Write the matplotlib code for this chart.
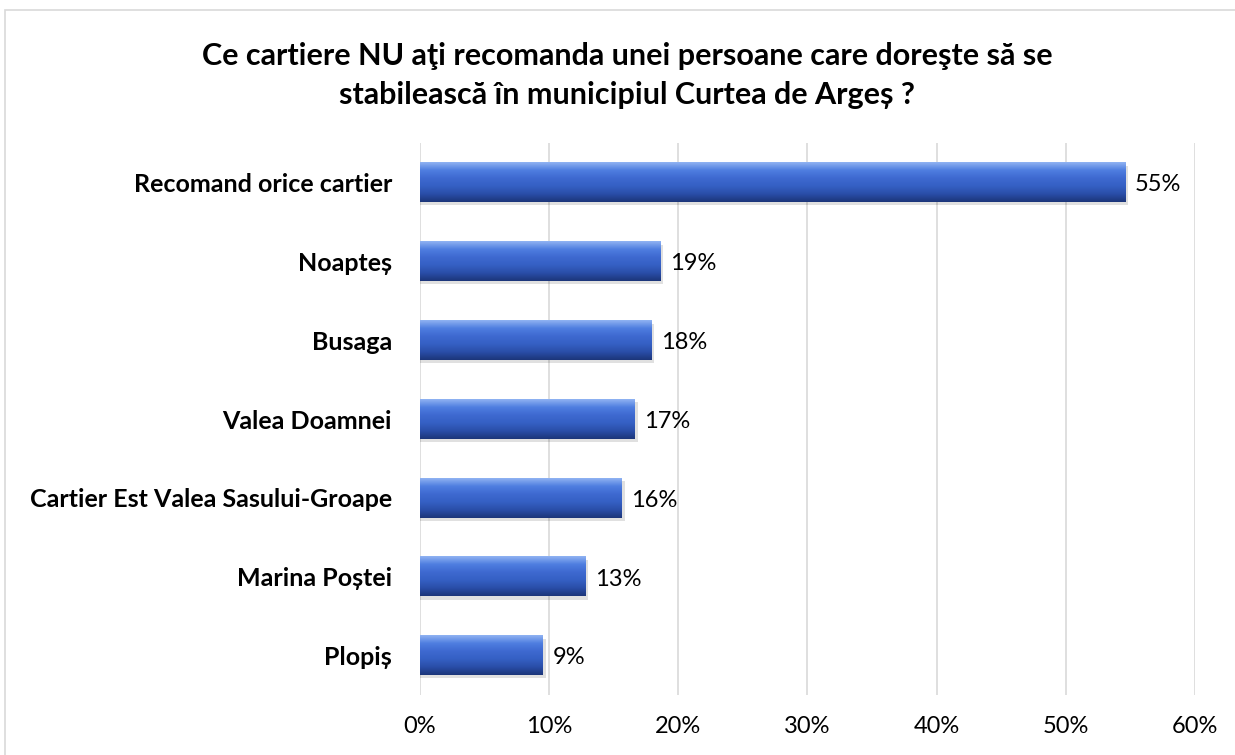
import matplotlib.pyplot as plt
import numpy as np
from matplotlib.patches import Rectangle
from matplotlib.colors import LinearSegmentedColormap

categorii = ['Recomand orice cartier', 'Noapteș', 'Busaga', 'Valea Doamnei',
             'Cartier Est Valea Sasului-Groape', 'Marina Poștei', 'Plopiș']
valori = [54.6, 18.6, 17.9, 16.6, 15.6, 12.8, 9.5]
etichete = ['55%', '19%', '18%', '17%', '16%', '13%', '9%']
ticks = [0, 10, 20, 30, 40, 50, 60]

plt.rcParams['font.family'] = ['Lato', 'DejaVu Sans']

fig = plt.figure(figsize=(12.35, 7.55), dpi=100)
ax = fig.add_axes([0.340, 0.0795, 0.6276, 0.731])

# chenarul graficului
fig.patches.append(Rectangle((5 / 1235, -0.01), 1.05, (745 / 755) + 0.01, transform=fig.transFigure,
                             fill=False, edgecolor='#d9d9d9', linewidth=1.2))

y = np.arange(len(categorii))
h = 0.5
grad = np.linspace(0, 1, 100).reshape(-1, 1)
cmap = LinearSegmentedColormap.from_list('bar', ['#8fb2f2', '#4f7ee0', '#3e69d0', '#3560c4', '#2a4ea8', '#1c367a'])

for yi, v, lab in zip(y, valori, etichete):
    # umbra
    ax.add_patch(Rectangle((0, yi - h / 2 + 0.04), v + 0.25, h, facecolor='#000000', alpha=0.12,
                           edgecolor='none', zorder=2))
    ax.imshow(grad, extent=(0, v, yi + h / 2, yi - h / 2), aspect='auto', cmap=cmap, zorder=3)
    ax.text(v + 0.75, yi + 0.03, lab, va='center', ha='left', fontsize=17)

ax.set_xlim(0, 60)
ax.set_ylim(len(categorii) - 0.5, -0.5)
ax.set_xticks(ticks)
ax.set_xticklabels([f'{t}%' for t in ticks], fontsize=17)
ax.set_yticks(y)
ax.set_yticklabels(categorii, fontsize=18, fontweight='bold')
ax.tick_params(axis='y', length=0, pad=20)
ax.tick_params(axis='x', length=0, pad=15)
ax.grid(axis='x', color='#d9d9d9', linewidth=1.2)
ax.set_axisbelow(True)
for s in ax.spines.values():
    s.set_visible(False)

fig.text(0.508, 0.900, 'Ce cartiere NU aţi recomanda unei persoane care doreşte să se\nstabilească în municipiul Curtea de Argeș ?',
         ha='center', va='center', fontsize=22, fontweight='bold', linespacing=1.45)

fig.savefig('out.png', dpi=100)
